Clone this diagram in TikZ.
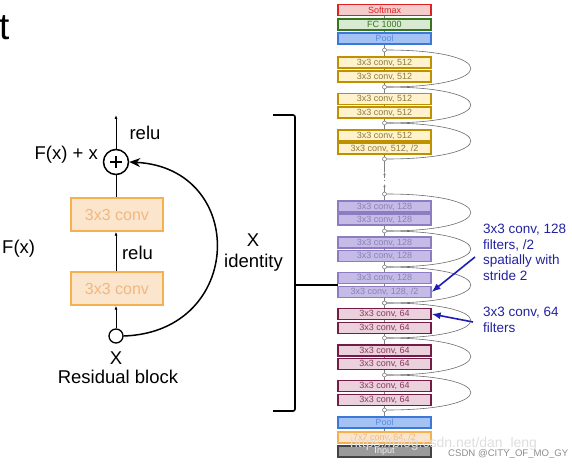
\documentclass[tikz,border=0pt]{standalone}
\usepackage{fontspec}
\setmainfont{Liberation Sans}
\usetikzlibrary{arrows.meta,backgrounds,calc}
\definecolor{resfill}{HTML}{FCE5CD}
\definecolor{resdraw}{HTML}{F6B04F}
\definecolor{restext}{HTML}{F0B880}
\definecolor{smfill}{HTML}{F4CCCC}
\definecolor{smdraw}{HTML}{DD2222}
\definecolor{fcfill}{HTML}{D9EAD3}
\definecolor{fcdraw}{HTML}{38761D}
\definecolor{plfill}{HTML}{A4C2F4}
\definecolor{pldraw}{HTML}{3C78D8}
\definecolor{plTxt}{HTML}{5B8DE0}
\definecolor{cfill}{HTML}{FFF2CC}
\definecolor{cdraw}{HTML}{BF9000}
\definecolor{cTxt}{HTML}{8C7A3C}
\definecolor{bfill}{HTML}{C4BCE6}
\definecolor{bdraw}{HTML}{8E7CC3}
\definecolor{bTxt}{HTML}{8A80B8}
\definecolor{afill}{HTML}{EAD1DC}
\definecolor{adraw}{HTML}{741B47}
\definecolor{aTxt}{HTML}{8A3A60}
\definecolor{infill}{HTML}{9A9A9A}
\definecolor{indraw}{HTML}{434343}
\definecolor{annblue}{HTML}{1E1EB4}
\definecolor{annTxt}{HTML}{2222A0}
\tikzset{
  big/.style={font=\fontsize{18.5}{20}\selectfont, inner sep=0pt},
  resbox/.style={draw=resdraw, fill=resfill, line width=1.3pt, minimum width=92pt, minimum height=33pt, inner sep=0pt, text=restext, font=\fontsize{16}{16}\selectfont},
  stackbox/.style={draw, line width=1.2pt, minimum width=93pt, minimum height=11pt, inner sep=0pt, font=\fontsize{9}{9}\selectfont},
  box512/.style={stackbox, draw=cdraw, fill=cfill, text=cTxt},
  box128/.style={stackbox, draw=bdraw, fill=bfill, text=bTxt},
  box64/.style={stackbox, draw=adraw, fill=afill, text=aTxt},
  sdot/.style={circle, draw=gray, fill=white, line width=0.6pt, minimum size=4pt, inner sep=0pt},
  skiparc/.style={draw=gray!85!black, line width=0.6pt},
  flow/.style={draw=gray, line width=0.6pt},
  thinarrow/.style={draw=black, line width=0.8pt, -{Latex[length=4pt,width=3pt]}},
  ann/.style={draw=annblue, line width=1.6pt, -{Latex[length=9pt,width=7pt]}},
  anntext/.style={text=annTxt, font=\fontsize{13.5}{15.5}\selectfont, align=left, anchor=north west, inner sep=0pt}
}
\begin{document}
\begin{tikzpicture}[x=1pt,y=-1pt]
\useasboundingbox (0,0) rectangle (572,465);
% title fragment
\node[anchor=base west, inner sep=0pt, font=\fontsize{37}{37}\selectfont] (tt) at (-1,40) {t};

% ---------- residual block ----------
\node[circle, draw, line width=1.5pt, minimum size=25pt, inner sep=0pt] (plus) at (116,162) {};
\draw[line width=2.2pt] ($(plus.center)+(-6,0)$) -- ++(12,0) ($(plus.center)+(0,-6)$) -- ++(0,12);
\node[resbox] (c1) at (117,214.5) {3x3 conv};
\node[resbox] (c2) at (117,288.5) {3x3 conv};
\node[circle, draw, line width=1.3pt, minimum size=14pt, inner sep=0pt] (xin) at (116,336) {};
\coordinate (outtop) at (116,115);
\draw[thinarrow] (plus.north) -- (outtop);
\draw[line width=0.8pt] (plus.south) -- (c1.north -| plus.south);
\draw[thinarrow] (c2.north -| plus.south) -- (c1.south -| plus.south);
\draw[thinarrow] (xin.north) -- (c2.south -| xin.north);
\draw[line width=1.5pt, -{Stealth[length=11pt,width=9pt]}] (xin.east) .. controls (245,332) and (248,168) .. (plus.east);
\node[big] (relu1) at (145,133) {relu};
\node[big, anchor=east] (fxx) at (98,155) {F(x) + x};
\node[big] (relu2) at (137.5,253) {relu};
\node[big] (xl) at (116,358) {X};
\node[big] (rb) at (118,377) {Residual block};
\node[big, anchor=west] (fx) at (2,249) {F(x)};
\node[big] (xid1) at (253,240) {X};
\node[big] (xid2) at (253.5,263) {identity};

% bracket
\coordinate (bt) at (273,115);
\coordinate (bb) at (273,411);
\coordinate (bm) at (295,285);
\coordinate (bmr) at (338,285);
\draw[line width=1.6pt, rounded corners=2pt] (bt) -- (295,115) -- (295,411) -- (bb);
\draw[line width=1.6pt] (bm) -- (bmr);

% ---------- stack ----------
\node[stackbox, draw=smdraw, fill=smfill, text=smdraw] (softmax) at (384.5,10) {Softmax};
\node[stackbox, draw=fcdraw, fill=fcfill, text=fcdraw] (fc) at (384.5,24.5) {FC 1000};
\node[stackbox, draw=pldraw, fill=plfill, text=plTxt] (poolt) at (384.5,38.5) {Pool};

% 512 group
\foreach \d [count=\i] in {50,87,123,159} { \node[sdot] (d5\i) at (384.5,\d) {}; }
\node[box512] (a1) at (384.5,62.5) {3x3 conv, 512};
\node[box512] (a2) at (384.5,76.5) {3x3 conv, 512};
\node[box512] (a3) at (384.5,99) {3x3 conv, 512};
\node[box512] (a4) at (384.5,112.5) {3x3 conv, 512};
\node[box512] (a5) at (384.5,135.5) {3x3 conv, 512};
\node[box512] (a6) at (384.5,148.5) {3x3 conv, 512, /2};

% 128 group
\foreach \d [count=\i] in {194,231,267,303} { \node[sdot] (d1\i) at (384.5,\d) {}; }
\node[box128] (b1) at (384.5,206.5) {3x3 conv, 128};
\node[box128] (b2) at (384.5,219.5) {3x3 conv, 128};
\node[box128] (b3) at (384.5,242.5) {3x3 conv, 128};
\node[box128] (b4) at (384.5,256) {3x3 conv, 128};
\node[box128] (b5) at (384.5,278) {3x3 conv, 128};
\node[box128] (b6) at (384.5,292) {3x3 conv, 128, /2};

% 64 group
\foreach \d [count=\i] in {303,338,375,410} { \node[sdot] (d6\i) at (384.5,\d) {}; }
\node[box64] (e1) at (384.5,314) {3x3 conv, 64};
\node[box64] (e2) at (384.5,328) {3x3 conv, 64};
\node[box64] (e3) at (384.5,350.5) {3x3 conv, 64};
\node[box64] (e4) at (384.5,364) {3x3 conv, 64};
\node[box64] (e5) at (384.5,386) {3x3 conv, 64};
\node[box64] (e6) at (384.5,400) {3x3 conv, 64};

\node[stackbox, draw=pldraw, fill=plfill, text=plTxt] (poolb) at (384.5,422.5) {Pool};
\node[stackbox, draw=resdraw, fill=resfill, text=restext] (c7) at (384.5,437.5) {7x7 conv, 64, /2};
\node[stackbox, draw=indraw, fill=infill, text=white!90!gray] (inp) at (384.5,451.5) {Input};

% flow lines
\begin{scope}[on background layer]
\foreach \u/\v in {inp/c7, c7/poolb, poolb/d64, d64/e6, e6/e5, e5/d63, d63/e4, e4/e3, e3/d62, d62/e2, e2/e1, e1/d61,
  d14/b6, b6/b5, b5/d13, d13/b4, b4/b3, b3/d12, d12/b2, b2/b1, b1/d11,
  d54/a6, a6/a5, a5/d53, d53/a4, a4/a3, a3/d52, d52/a2, a2/a1, a1/d51, d51/poolt, poolt/fc, fc/softmax}
  { \draw[flow] (\u) -- (\v); }
\end{scope}
\coordinate (g1) at (384.5,184);
\coordinate (g2) at (384.5,178);
\coordinate (g3) at (384.5,172);
\draw[flow, -{Latex[length=3pt,width=2.5pt]}] (d11) -- (g1);
\draw[flow, -{Latex[length=3pt,width=2.5pt]}] (g2) -- (g3);
\draw[flow] (g3) -- (d54);
\fill[gray] (384.5,180.5) circle (0.7pt) (384.5,177) circle (0.7pt);

% skip arcs
\foreach \u/\v in {d51/d52, d52/d53, d53/d54, d11/d12, d12/d13, d13/d14, d61/d62, d62/d63, d63/d64}
  { \draw[skiparc] (\u.east) .. controls +(112,0) and +(112,0) .. (\v.east); }

% annotations
\node[anntext] (t1) at (483,224) {3x3 conv, 128\\filters, /2\\spatially with\\stride 2};
\node[anntext] (t2) at (483,307) {3x3 conv, 64\\filters};
\coordinate (a1s) at (475,257);
\coordinate (a2s) at (473,322);
\draw[ann] (a1s) -- (b6.east);
\draw[ann] (a2s) -- (e1.east);

% watermarks
\node[anchor=west, inner sep=0pt, text=black!13, font=\fontsize{14}{14}\selectfont] (wm) at (350,444) {https://blog.csdn.net/dan\_leng};
\node[anchor=west, inner sep=0pt, text=gray!90, font=\fontsize{9.6}{9.6}\selectfont] (csdn) at (448,454) {CSDN @CITY\_OF\_MO\_GY};
\end{tikzpicture}
\end{document}
